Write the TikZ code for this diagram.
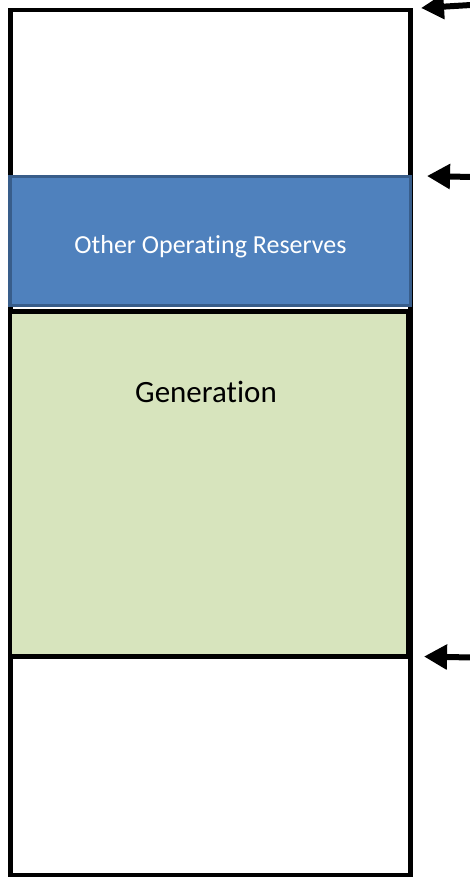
\documentclass[tikz,border=0pt]{standalone}
\usepackage{fontspec}
\setmainfont{Carlito}[Ligatures=NoCommon]
\usepackage{xcolor}
\usepackage{tikz}
\usetikzlibrary{arrows.meta}

\definecolor{reserveblue}{HTML}{4F81BD}
\definecolor{reserveedge}{HTML}{385D8A}
\definecolor{gengreen}{HTML}{D7E4BD}

\tikzset{
  level/.style={line width=6pt, {Triangle[length=23pt,width=24pt]}-},
}

\begin{document}
\begin{tikzpicture}[x=1pt,y=-1pt]
\useasboundingbox (0,0) rectangle (470,877);
\draw[line width=4.5pt]
(10.5,10) rectangle (410.5,875);
\draw[fill=reserveblue,draw=reserveedge,line width=3.5pt]
(10,176.5) rectangle (410.5,305.5);
\draw[fill=gengreen,line width=4.5pt]
(10,311.5) rectangle (408.5,656.5);
\node[text=white,font=\fontsize{26}{30}\selectfont] (reserves) at (210.5,246.5) {Other Operating Reserves};
\node[font=\fontsize{31}{36}\selectfont] (generation) at (206,392) {Generation};
% level arrows
\coordinate (tiptop) at (421,8);
\coordinate (tipres) at (427,176);
\coordinate (tipgen) at (424,656.5);
\coordinate (endtop) at (471,5);
\coordinate (endres) at (471,177);
\coordinate (endgen) at (471,657.5);
\draw[level] (tiptop) -- (endtop);
\draw[level] (tipres) -- (endres);
\draw[level] (tipgen) -- (endgen);
\end{tikzpicture}
\end{document}
